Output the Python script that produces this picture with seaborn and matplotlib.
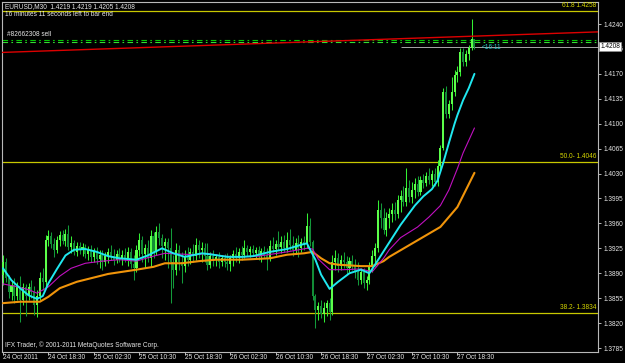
import matplotlib
matplotlib.use("Agg")
import matplotlib.pyplot as plt
import seaborn as sns
import pandas as pd
import numpy as np

# ---------------- data ----------------
bar_open = [1.3888,1.3906,1.3884,1.3864,1.3874,1.3858,1.3872,1.3852,1.3870,1.3858,
            1.3871,1.3864,1.3845,1.3858,1.3884,1.3877,1.3937,1.3942,1.3931,1.3923,
            1.3937,1.3944,1.3935,1.3945,1.3927,1.3932,1.3920,1.3928,1.3923,1.3927,
            1.3917,1.3923,1.3913,1.3920,1.3910,1.3916,1.3906,1.3914,1.3920,1.3914,
            1.3909,1.3917,1.3911,1.3916,1.3909,1.3920,1.3903,1.3897,1.3923,1.3937,
            1.3917,1.3925,1.3911,1.3942,1.3920,1.3948,1.3940,1.3928,1.3934,1.3925,
            1.3906,1.3895,1.3923,1.3906,1.3900,1.3914,1.3909,1.3920,1.3914,1.3930,
            1.3923,1.3925,1.3914,1.3902,1.3914,1.3909,1.3913,1.3906,1.3911,1.3906,
            1.3903,1.3911,1.3917,1.3911,1.3920,1.3916,1.3925,1.3920,1.3924,1.3918,
            1.3923,1.3914,1.3921,1.3916,1.3911,1.3928,1.3924,1.3931,1.3927,1.3934,
            1.3925,1.3937,1.3930,1.3923,1.3932,1.3925,1.3934,1.3931,1.3956,1.3934,
            1.3858,1.3838,1.3844,1.3833,1.3841,1.3848,1.3836,1.3906,1.3911,1.3900,
            1.3909,1.3906,1.3897,1.3907,1.3900,1.3892,1.3880,1.3892,1.3876,1.3880,
            1.3900,1.3914,1.3925,1.3979,1.3968,1.3951,1.3968,1.3973,1.3979,1.3973,
            1.3993,1.3999,1.3990,1.4010,1.3997,1.4007,1.4015,1.4004,1.4021,1.4017,
            1.4027,1.4021,1.4029,1.4018,1.4041,1.4066,1.4145,1.4114,1.4128,1.4145,
            1.4169,1.4173,1.4201,1.4187,1.4198,1.4206,1.4219]
bar_high = [1.3916,1.3912,1.3888,1.3881,1.3884,1.3878,1.3886,1.3876,1.3875,1.3876,
            1.3881,1.3872,1.3866,1.3892,1.3898,1.3944,1.3951,1.3948,1.3940,1.3942,
            1.3950,1.3951,1.3952,1.3958,1.3942,1.3937,1.3934,1.3934,1.3933,1.3931,
            1.3928,1.3930,1.3925,1.3927,1.3923,1.3923,1.3920,1.3925,1.3930,1.3924,
            1.3923,1.3925,1.3923,1.3926,1.3927,1.3925,1.3916,1.3930,1.3946,1.3942,
            1.3931,1.3937,1.3951,1.3948,1.3956,1.3961,1.3945,1.3940,1.3940,1.3954,
            1.3916,1.3932,1.3930,1.3920,1.3923,1.3927,1.3925,1.3931,1.3940,1.3937,
            1.3934,1.3932,1.3932,1.3920,1.3923,1.3917,1.3920,1.3916,1.3917,1.3918,
            1.3916,1.3923,1.3927,1.3925,1.3928,1.3937,1.3930,1.3928,1.3930,1.3927,
            1.3928,1.3925,1.3928,1.3925,1.3937,1.3941,1.3937,1.3949,1.3942,1.3944,
            1.3948,1.3952,1.3942,1.3940,1.3944,1.3940,1.3942,1.3975,1.3968,1.3937,
            1.3861,1.3850,1.3852,1.3850,1.3852,1.3855,1.3916,1.3923,1.3918,1.3916,
            1.3920,1.3914,1.3913,1.3916,1.3910,1.3906,1.3897,1.3897,1.3886,1.3906,
            1.3923,1.3932,1.3993,1.3989,1.3982,1.3976,1.3982,1.3989,1.3990,1.4000,
            1.4007,1.4013,1.4038,1.4021,1.4018,1.4024,1.4027,1.4027,1.4029,1.4032,
            1.4038,1.4035,1.4038,1.4049,1.4070,1.4150,1.4153,1.4133,1.4166,1.4176,
            1.4181,1.4207,1.4207,1.4204,1.4210,1.4247,1.4219]
bar_low = [1.3874,1.3878,1.3855,1.3852,1.3848,1.3852,1.3822,1.3845,1.3830,1.3852,
           1.3855,1.3831,1.3829,1.3852,1.3866,1.3872,1.3928,1.3926,1.3913,1.3919,
           1.3928,1.3931,1.3928,1.3923,1.3919,1.3916,1.3914,1.3917,1.3914,1.3912,
           1.3909,1.3906,1.3906,1.3903,1.3897,1.3895,1.3900,1.3904,1.3909,1.3902,
           1.3904,1.3906,1.3902,1.3906,1.3900,1.3897,1.3880,1.3892,1.3914,1.3906,
           1.3897,1.3906,1.3899,1.3911,1.3916,1.3930,1.3911,1.3909,1.3897,1.3848,
           1.3869,1.3888,1.3895,1.3876,1.3892,1.3900,1.3903,1.3906,1.3909,1.3911,
           1.3906,1.3906,1.3895,1.3897,1.3900,1.3900,1.3897,1.3900,1.3899,1.3895,
           1.3893,1.3900,1.3906,1.3904,1.3909,1.3911,1.3914,1.3913,1.3914,1.3911,
           1.3909,1.3906,1.3911,1.3895,1.3907,1.3920,1.3916,1.3923,1.3918,1.3920,
           1.3920,1.3923,1.3914,1.3917,1.3913,1.3920,1.3923,1.3925,1.3928,1.3852,
           1.3813,1.3824,1.3827,1.3822,1.3830,1.3824,1.3831,1.3895,1.3892,1.3895,
           1.3897,1.3889,1.3892,1.3895,1.3883,1.3873,1.3875,1.3869,1.3866,1.3875,
           1.3892,1.3900,1.3920,1.3953,1.3945,1.3942,1.3954,1.3962,1.3965,1.3968,
           1.3976,1.3984,1.3984,1.3990,1.3989,1.3996,1.3999,1.4000,1.4010,1.4013,
           1.4015,1.4013,1.4013,1.4013,1.4035,1.4063,1.4108,1.4108,1.4119,1.4139,
           1.4159,1.4167,1.4181,1.4181,1.4189,1.4203,1.4205]
bar_close = [1.3906,1.3884,1.3864,1.3874,1.3858,1.3872,1.3852,1.3870,1.3858,1.3871,
             1.3864,1.3845,1.3858,1.3884,1.3877,1.3937,1.3942,1.3931,1.3923,1.3937,
             1.3944,1.3935,1.3945,1.3927,1.3932,1.3920,1.3928,1.3923,1.3927,1.3917,
             1.3923,1.3913,1.3920,1.3910,1.3916,1.3906,1.3914,1.3920,1.3914,1.3909,
             1.3917,1.3911,1.3916,1.3909,1.3920,1.3903,1.3897,1.3923,1.3937,1.3917,
             1.3925,1.3911,1.3942,1.3920,1.3948,1.3940,1.3928,1.3934,1.3925,1.3906,
             1.3895,1.3923,1.3906,1.3900,1.3914,1.3909,1.3920,1.3914,1.3930,1.3923,
             1.3925,1.3914,1.3902,1.3914,1.3909,1.3913,1.3906,1.3911,1.3906,1.3903,
             1.3911,1.3917,1.3911,1.3920,1.3916,1.3925,1.3920,1.3924,1.3918,1.3923,
             1.3914,1.3921,1.3916,1.3911,1.3928,1.3924,1.3931,1.3927,1.3934,1.3925,
             1.3937,1.3930,1.3923,1.3932,1.3925,1.3934,1.3931,1.3956,1.3934,1.3858,
             1.3838,1.3844,1.3833,1.3841,1.3848,1.3836,1.3906,1.3911,1.3900,1.3909,
             1.3906,1.3897,1.3907,1.3900,1.3892,1.3880,1.3892,1.3876,1.3880,1.3900,
             1.3914,1.3925,1.3979,1.3968,1.3951,1.3968,1.3973,1.3979,1.3973,1.3993,
             1.3999,1.3990,1.4010,1.3997,1.4007,1.4015,1.4004,1.4021,1.4017,1.4027,
             1.4021,1.4029,1.4018,1.4041,1.4066,1.4145,1.4114,1.4128,1.4145,1.4169,
             1.4173,1.4201,1.4187,1.4198,1.4206,1.4219,1.4208]

ma_fast_bar = [0,3,6,9,12,14,16,19,22,25,29,33,37,41,47,51,56,60,64,70,74,79,84,88,94,
               100,105,107,110,112,115,118,122,126,129,131,135,140,145,148,151,153,155,
               157,159,160,162,164,166]
ma_fast_price = [1.3897,1.3880,1.3869,1.3859,1.3854,1.3858,1.3876,1.3896,1.3915,1.3923,
                 1.3924,1.3920,1.3914,1.3911,1.3909,1.3915,1.3925,1.3918,1.3913,1.3918,
                 1.3916,1.3913,1.3913,1.3914,1.3920,1.3924,1.3930,1.3932,1.3909,1.3888,
                 1.3868,1.3878,1.3890,1.3895,1.3890,1.3902,1.3927,1.3958,1.3985,1.3998,
                 1.4008,1.4020,1.4045,1.4073,1.4100,1.4112,1.4133,1.4150,1.4170]
ma_mid_bar = [0,5,9,12,16,20,24,29,35,41,47,52,57,62,68,72,77,84,90,100,107,109,111,115,
              120,126,130,134,136,140,146,150,154,157,160,162,166]
ma_mid_price = [1.3875,1.3871,1.3867,1.3862,1.3871,1.3886,1.3897,1.3904,1.3907,1.3909,
                1.3907,1.3913,1.3918,1.3917,1.3916,1.3918,1.3914,1.3913,1.3914,1.3920,
                1.3925,1.3924,1.3910,1.3895,1.3895,1.3896,1.3892,1.3911,1.3923,1.3940,
                1.3955,1.3969,1.3985,1.4007,1.4037,1.4059,1.4094]
ma_slow_bar = [0,6,13,16,20,26,31,37,42,47,53,57,63,69,75,84,94,100,106,109,112,115,118,
               126,130,134,136,142,148,154,157,160,163,166]
ma_slow_price = [1.3848,1.3850,1.3850,1.3857,1.3869,1.3878,1.3883,1.3889,1.3892,1.3895,
                 1.3899,1.3904,1.3904,1.3907,1.3909,1.3909,1.3911,1.3916,1.3918,1.3920,
                 1.3911,1.3904,1.3902,1.3900,1.3900,1.3907,1.3913,1.3927,1.3941,1.3955,
                 1.3969,1.3983,1.4007,1.4031]

time_tick_bars = [0, 16, 32, 48, 64, 80, 96, 112, 128, 144, 160]
time_tick_labels = ["24 Oct 2011", "24 Oct 18:30", "25 Oct 02:30", "25 Oct 10:30",
                    "25 Oct 18:30", "26 Oct 02:30", "26 Oct 10:30", "26 Oct 18:30",
                    "27 Oct 02:30", "27 Oct 10:30", "27 Oct 18:30"]
price_ticks = [1.4240, 1.4205, 1.4170, 1.4135, 1.4100, 1.4065, 1.4030, 1.3995,
               1.3960, 1.3925, 1.3890, 1.3855, 1.3820, 1.3785]
fib_levels = [1.4258, 1.4046, 1.3834]
fib_labels = ["61.8 1.4258", "50.0- 1.4046", "38.2- 1.3834"]
trend_bars = [-1, 210]
trend_prices = [1.4200, 1.4229]
order_levels = [1.4218, 1.4215]
bid_price = 1.4208
bid_line_start_bar = 140
header_text = "EURUSD,M30  1.4219 1.4219 1.4205 1.4208"
timer_text = "16 minutes 11 seconds left to bar end"
order_text = "#82662308 sell"
countdown_text = "<16:11"
copyright_text = "IFX Trader, \u00a9 2001-2011 MetaQuotes Software Corp."

# ---------------- style ----------------
sns.set_theme(style="dark")
plt.rcParams['font.family'] = ['Liberation Sans', 'DejaVu Sans']
FS = 4.7
TXT = '#e8e8e8'
FRAME = '#b8b8b8'

fig = plt.figure(figsize=(6.25, 3.63), dpi=100, facecolor='black')
ax = fig.add_axes([2/625, 11/363, 596/625, 350/363])
ax.set_facecolor('black')

# ---------------- candles ----------------
df = pd.DataFrame({"o": bar_open, "h": bar_high, "l": bar_low, "c": bar_close})
df["bar"] = np.arange(len(df))
df["up"] = df["c"] >= df["o"]
up_body, dn_body = '#5cff4a', '#128c36'
up_wick, dn_wick = '#33f033', '#139a3a'
wick_colors = [up_wick if u else dn_wick for u in df["up"]]
ax.vlines(df["bar"], df["l"], df["h"], colors=wick_colors, lw=0.75, zorder=3)
body_bottom = np.minimum(df["o"], df["c"])
body_height = np.maximum(np.abs(df["c"] - df["o"]), 0.00008)
ax.bar(df["bar"], body_height, bottom=body_bottom, width=0.72,
       color=[up_body if u else dn_body for u in df["up"]], linewidth=0, zorder=4)

# ---------------- indicator lines ----------------
sns.lineplot(x=ma_slow_bar, y=ma_slow_price, ax=ax, color='#f0940a', lw=1.5, zorder=5)
sns.lineplot(x=ma_mid_bar, y=ma_mid_price, ax=ax, color='#c010c0', lw=0.8, zorder=6)
sns.lineplot(x=ma_fast_bar, y=ma_fast_price, ax=ax, color='#20e8f0', lw=1.4, zorder=7)
sns.lineplot(x=trend_bars, y=trend_prices, ax=ax, color='#dd0000', lw=1.0, zorder=5)

# fibonacci levels
for lvl, lab in zip(fib_levels, fib_labels):
    ax.axhline(lvl, color='#c8c800', lw=0.9, zorder=2)
    ax.text(0.997, lvl + 0.00030, lab, transform=ax.get_yaxis_transform(),
            ha='right', va='bottom', color='#d8d800', fontsize=FS, zorder=8)

# order lines
ax.axhline(order_levels[0], color='#00cc00', lw=0.8, ls=(0, (5, 3, 1.5, 3)), zorder=2)
ax.axhline(order_levels[1], color='#33dd33', lw=0.8, ls=(0, (5, 3, 1.5, 3)), zorder=2)
# bid line (visible on the right part of the chart)
ax.hlines(bid_price, bid_line_start_bar, 209.5, color='#a8a8a8', lw=0.7, zorder=2)

# ---------------- axes ----------------
ax.set_xlim(-0.35, 209.5)
ax.set_ylim(1.37794, 1.42709)
ax.yaxis.tick_right()
ax.set_yticks(price_ticks)
ax.set_yticklabels([f"{p:.4f}" for p in price_ticks])
ax.set_xticks(time_tick_bars)
ax.set_xticklabels(time_tick_labels, ha='left')
ax.tick_params(axis='both', which='major', direction='out', length=2.5, width=0.7,
               color=FRAME, labelcolor=TXT, labelsize=FS)
ax.tick_params(axis='x', pad=-1.2, bottom=True)
ax.tick_params(axis='y', pad=1.5, right=True, left=False)
ax.set_xlabel("")
ax.set_ylabel("")
ax.grid(False)
for s in ax.spines.values():
    s.set_visible(True)
    s.set_color(FRAME)
    s.set_linewidth(0.8)

# current price box
ax.text(1.004, bid_price, f"{bid_price:.4f}", transform=ax.get_yaxis_transform(),
        ha='left', va='center', color='black', fontsize=FS, zorder=10, clip_on=False,
        bbox=dict(boxstyle='square,pad=0.15', facecolor='white', edgecolor='#909090', lw=0.5))

# ---------------- texts ----------------
fig.text(5/625, 1 - 7/363, header_text, color=TXT, fontsize=FS, va='center', ha='left')
fig.text(5/625, 1 - 15/363, timer_text, color=TXT, fontsize=FS, va='center', ha='left')
fig.text(7/625, 1 - 34.5/363, order_text, color=TXT, fontsize=FS, va='center', ha='left')
fig.text(5/625, 1 - 345/363, copyright_text, color=TXT, fontsize=FS, va='center', ha='left')
ax.text(168.7, bid_price - 0.0001, countdown_text, color='#26c6c6', fontsize=FS,
        va='center', ha='left', zorder=9)

fig.savefig("out.png", dpi=100, facecolor='black')
